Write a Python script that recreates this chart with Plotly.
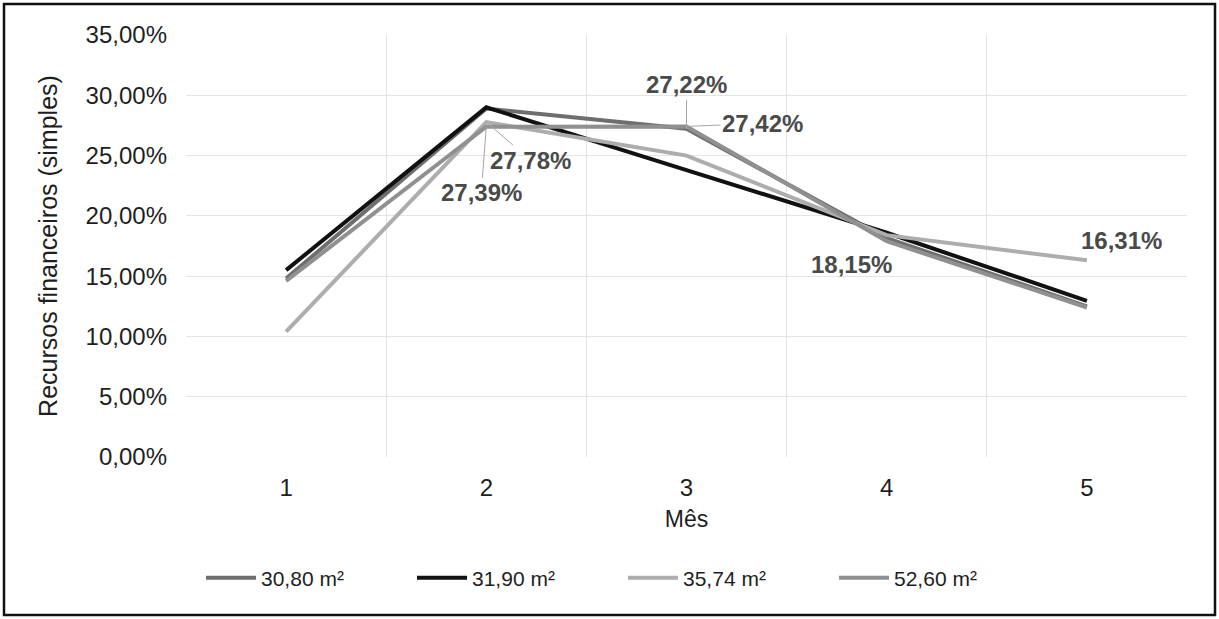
import plotly.graph_objects as go

# Monthly share of financial resources per apartment size (simple interest), in %
meses = [1, 2, 3, 4, 5]
serie_30_80 = [14.8, 28.9, 27.22, 18.15, 12.5]
serie_31_90 = [15.5, 29.0, 23.8, 18.6, 12.95]
serie_35_74 = [10.4, 27.78, 25.0, 18.4, 16.31]
serie_52_60 = [14.6, 27.39, 27.42, 17.9, 12.4]
nomes = ["30,80 m²", "31,90 m²", "35,74 m²", "52,60 m²"]
y_ticks = [0, 5, 10, 15, 20, 25, 30, 35]

series = [serie_30_80, serie_31_90, serie_35_74, serie_52_60]
cores = ["#6e6e6e", "#111111", "#adadad", "#909090"]

FONTE = "Liberation Sans, Arial, sans-serif"
W, H = 1219, 619
ML, MR, MT, MB = 186, 32, 35, 162


def fmt(v):
    return f"{v:.2f}%".replace(".", ",")


fig = go.Figure()
for nome, valores, cor in zip(nomes, series, cores):
    fig.add_trace(go.Scatter(
        x=meses, y=valores, name=nome, mode="lines",
        line=dict(color=cor, width=4),
        hoverinfo="skip",
    ))

# data labels: (series index, point index, x offset px, y offset px, leader line)
rotulos = [
    (3, 1, -5, 66, True),
    (2, 1, 44, 38, True),
    (0, 2, 0, -44, True),
    (3, 2, 76, -3, True),
    (0, 3, -35, 26, False),
    (2, 4, 35, -20, False),
]
for si, pi, dx, dy, leader in rotulos:
    v = series[si][pi]
    base = dict(
        x=meses[pi], y=v, xref="x", yref="y", text=fmt(v),
        font=dict(family=FONTE, size=24, color="#4a4a4a", weight="bold"),
    )
    if leader:
        fig.add_annotation(**base, showarrow=True, arrowhead=0, arrowwidth=1,
                           arrowcolor="#a6a6a6", ax=dx, ay=dy, standoff=0)
    else:
        fig.add_annotation(**base, showarrow=False, xshift=dx, yshift=-dy)

pw, ph = W - ML - MR, H - MT - MB
# outer frame of the chart area
fig.add_shape(type="rect", xref="paper", yref="paper",
              x0=(4 - ML) / pw, x1=(W - 4 - ML) / pw,
              y0=-(H - 4 - MT - ph) / ph, y1=1 + (MT - 4) / ph,
              line=dict(color="#111111", width=2.5), layer="below")

fig.update_layout(
    width=W, height=H,
    margin=dict(l=ML, r=MR, t=MT, b=MB, autoexpand=False),
    paper_bgcolor="white", plot_bgcolor="white",
    font=dict(family=FONTE, size=22, color="#1e1e1e"),
    showlegend=True,
    legend=dict(
        orientation="h", x=0.015, xanchor="left", y=-0.287, yanchor="middle",
        font=dict(family=FONTE, size=21, color="#1e1e1e"),
        entrywidth=146, entrywidthmode="pixels",
        itemwidth=50, traceorder="normal",
    ),
    xaxis=dict(
        range=[0.5, 5.5], tickvals=meses, ticktext=[str(m) for m in meses],
        showgrid=False, zeroline=False, showline=False,
        ticks="", tickfont=dict(size=24), ticklabelstandoff=14,
        minor=dict(tickvals=[0.5, 1.5, 2.5, 3.5, 4.5, 5.5], showgrid=True,
                   gridcolor="#e4e4e4", gridwidth=1.2, ticks=""),
        title=dict(text="Mês", font=dict(size=23), standoff=10),
        fixedrange=True,
    ),
    yaxis=dict(
        range=[0, 35], tickvals=y_ticks,
        ticktext=[fmt(t) for t in y_ticks],
        showgrid=True, gridcolor="#e4e4e4", gridwidth=1.2,
        zeroline=False, showline=False, ticks="", tickfont=dict(size=24),
        ticklabelstandoff=18,
        title=dict(text="Recursos financeiros (simples)", font=dict(size=25),
                   standoff=20),
        fixedrange=True,
    ),
)

fig.write_html("out.html")
